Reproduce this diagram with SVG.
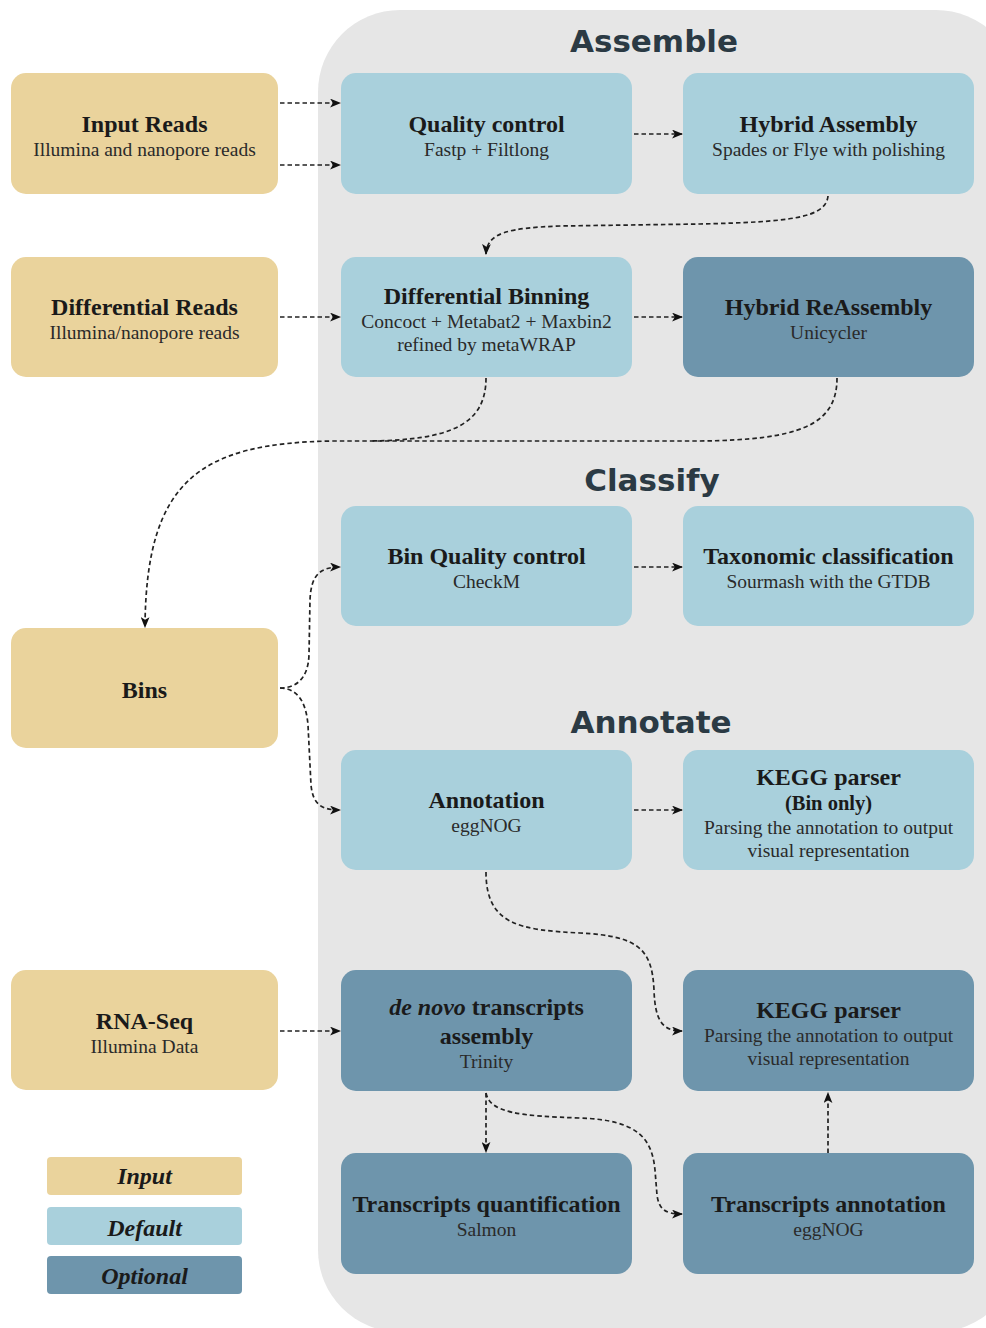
<svg xmlns="http://www.w3.org/2000/svg" width="986" height="1328" viewBox="0 0 986 1328">
<defs>
<marker id="arr" viewBox="0 0 10 8" refX="9" refY="4" markerWidth="11" markerHeight="9" markerUnits="userSpaceOnUse" orient="auto">
<path d="M0,0 L10,4 L0,8 L2.5,4 z" fill="#111"/>
</marker>
<style>
.inp{fill:#EAD39C}
.def{fill:#A9D0DC}
.opt{fill:#6E95AC}
.t{font-family:"Liberation Serif","Times New Roman",serif;font-weight:bold;font-size:24px;fill:#1a1a1a;text-anchor:middle}
.s{font-family:"Liberation Serif","Times New Roman",serif;font-size:19.5px;fill:#2a2a2a;text-anchor:middle}
.sec{font-family:"DejaVu Sans",Verdana,sans-serif;font-weight:bold;font-size:31px;fill:#2B3A44;text-anchor:middle}
.lg{font-family:"Liberation Serif","Times New Roman",serif;font-weight:bold;font-style:italic;font-size:24px;fill:#1a1a1a;text-anchor:middle}
.c{fill:none;stroke:#222;stroke-width:1.7;stroke-dasharray:4.5 3;marker-end:url(#arr)}
.cn{fill:none;stroke:#222;stroke-width:1.7;stroke-dasharray:4.5 3}
</style>
</defs>
<rect x="0" y="0" width="986" height="1328" fill="#ffffff"/>
<rect id="panel" x="318" y="10" width="700" height="1322" rx="82" fill="#E6E6E6"/>
<text class="sec" x="654" y="52">Assemble</text>
<text class="sec" x="652" y="491">Classify</text>
<text class="sec" x="651" y="733">Annotate</text>

<g id="connectors">
<path class="c" d="M280,103 L340,103"/>
<path class="c" d="M280,165 L340,165"/>
<path class="c" d="M634,134 L682,134"/>
<path class="c" d="M828,196 C826,218 790,222 700,224 L560,226 C510,228 487,232 486,254"/>
<path class="c" d="M280,317 L340,317"/>
<path class="c" d="M634,317 L682,317"/>
<path class="cn" d="M486,378 C486,425 450,440 370,441"/>
<path class="c" d="M837,378 C837,425 800,440 700,441 L333,441 C200,443 146,480 145,627"/>
<path class="c" d="M280,688 C295,688 308,680 309,655 L310,600 C311,575 320,567 340,567"/>
<path class="c" d="M280,688 C296,688 306,700 308,725 L311,785 C313,805 322,810 340,810"/>
<path class="c" d="M634,567 L682,567"/>
<path class="c" d="M634,810 L682,810"/>
<path class="c" d="M486,872 C486,925 520,930 580,933 C640,936 652,950 654,990 C655,1020 662,1031 682,1031"/>
<path class="c" d="M280,1031 L340,1031"/>
<path class="c" d="M486,1093 L486,1152"/>
<path class="c" d="M486,1093 C490,1113 520,1116 580,1118 C640,1120 652,1140 655,1170 L657,1195 C659,1210 666,1214 682,1214"/>
<path class="c" d="M828,1153 L828,1093"/>
</g>

<g id="input-reads">
<rect class="inp" x="11" y="73" width="267" height="121" rx="15"/>
<text class="t" x="144.5" y="132">Input Reads</text>
<text class="s" x="144.5" y="156">Illumina and nanopore reads</text>
</g>
<g id="quality-control">
<rect class="def" x="341" y="73" width="291" height="121" rx="15"/>
<text class="t" x="486.5" y="132">Quality control</text>
<text class="s" x="486.5" y="156">Fastp + Filtlong</text>
</g>
<g id="hybrid-assembly">
<rect class="def" x="683" y="73" width="291" height="121" rx="15"/>
<text class="t" x="828.5" y="132">Hybrid Assembly</text>
<text class="s" x="828.5" y="156">Spades or Flye with polishing</text>
</g>
<g id="differential-reads">
<rect class="inp" x="11" y="257" width="267" height="120" rx="15"/>
<text class="t" x="144.5" y="315">Differential Reads</text>
<text class="s" x="144.5" y="339">Illumina/nanopore reads</text>
</g>
<g id="differential-binning">
<rect class="def" x="341" y="257" width="291" height="120" rx="15"/>
<text class="t" x="486.5" y="304">Differential Binning</text>
<text class="s" x="486.5" y="328">Concoct + Metabat2 + Maxbin2</text>
<text class="s" x="486.5" y="351">refined by metaWRAP</text>
</g>
<g id="hybrid-reassembly">
<rect class="opt" x="683" y="257" width="291" height="120" rx="15"/>
<text class="t" x="828.5" y="315">Hybrid ReAssembly</text>
<text class="s" x="828.5" y="339">Unicycler</text>
</g>
<g id="bin-quality-control">
<rect class="def" x="341" y="506" width="291" height="120" rx="15"/>
<text class="t" x="486.5" y="564">Bin Quality control</text>
<text class="s" x="486.5" y="588">CheckM</text>
</g>
<g id="taxonomic-classification">
<rect class="def" x="683" y="506" width="291" height="120" rx="15"/>
<text class="t" x="828.5" y="564">Taxonomic classification</text>
<text class="s" x="828.5" y="588">Sourmash with the GTDB</text>
</g>
<g id="bins">
<rect class="inp" x="11" y="628" width="267" height="120" rx="15"/>
<text class="t" x="144.5" y="698">Bins</text>
</g>
<g id="annotation">
<rect class="def" x="341" y="750" width="291" height="120" rx="15"/>
<text class="t" x="486.5" y="808">Annotation</text>
<text class="s" x="486.5" y="832">eggNOG</text>
</g>
<g id="kegg-parser-bin">
<rect class="def" x="683" y="750" width="291" height="120" rx="15"/>
<text class="t" x="828.5" y="785">KEGG parser</text>
<text class="t" x="828.5" y="810" style="font-size:20.5px">(Bin only)</text>
<text class="s" x="828.5" y="834">Parsing the annotation to output</text>
<text class="s" x="828.5" y="857">visual representation</text>
</g>
<g id="rna-seq">
<rect class="inp" x="11" y="970" width="267" height="120" rx="15"/>
<text class="t" x="144.5" y="1029">RNA-Seq</text>
<text class="s" x="144.5" y="1053">Illumina Data</text>
</g>
<g id="de-novo-assembly">
<rect class="opt" x="341" y="970" width="291" height="121" rx="15"/>
<text class="t" x="486.5" y="1015"><tspan font-style="italic">de novo</tspan> transcripts</text>
<text class="t" x="486.5" y="1044">assembly</text>
<text class="s" x="486.5" y="1068">Trinity</text>
</g>
<g id="kegg-parser">
<rect class="opt" x="683" y="970" width="291" height="121" rx="15"/>
<text class="t" x="828.5" y="1018">KEGG parser</text>
<text class="s" x="828.5" y="1042">Parsing the annotation to output</text>
<text class="s" x="828.5" y="1065">visual representation</text>
</g>
<g id="transcripts-quantification">
<rect class="opt" x="341" y="1153" width="291" height="121" rx="15"/>
<text class="t" x="486.5" y="1212">Transcripts quantification</text>
<text class="s" x="486.5" y="1236">Salmon</text>
</g>
<g id="transcripts-annotation">
<rect class="opt" x="683" y="1153" width="291" height="121" rx="15"/>
<text class="t" x="828.5" y="1212">Transcripts annotation</text>
<text class="s" x="828.5" y="1236">eggNOG</text>
</g>

<g id="legend">
<rect class="inp" x="47" y="1157" width="195" height="38" rx="4"/>
<text class="lg" x="144.5" y="1184">Input</text>
<rect class="def" x="47" y="1207" width="195" height="38" rx="4"/>
<text class="lg" x="144.5" y="1236">Default</text>
<rect class="opt" x="47" y="1256" width="195" height="38" rx="4"/>
<text class="lg" x="144.5" y="1284">Optional</text>
</g>
</svg>
